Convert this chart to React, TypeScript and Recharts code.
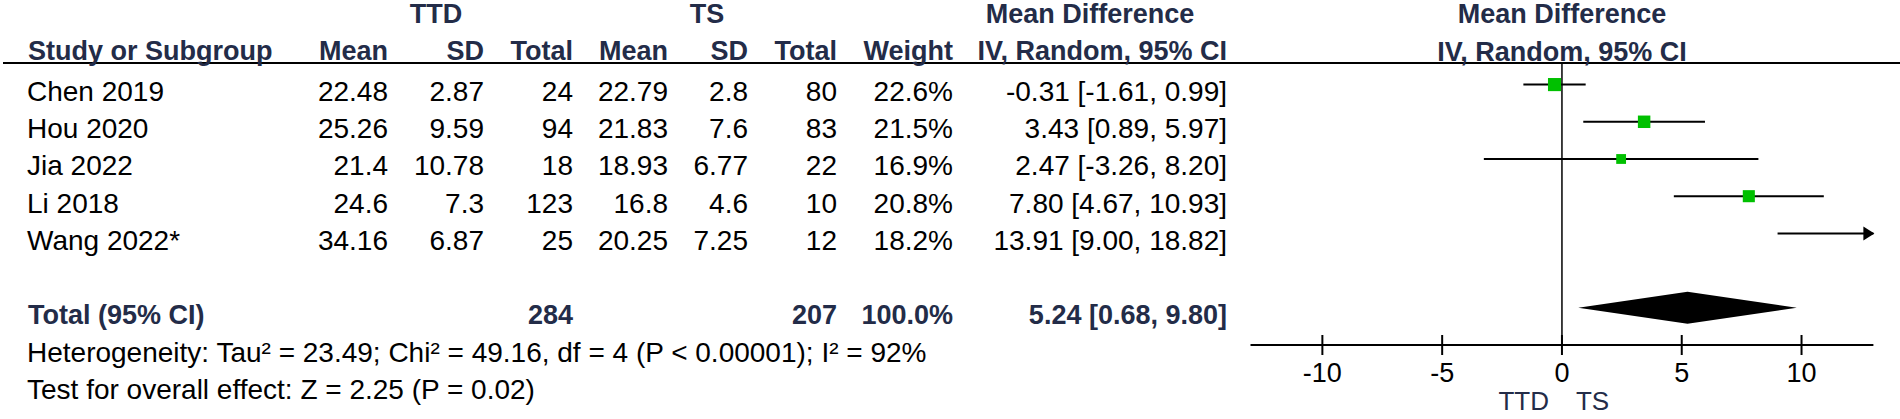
import React from 'react';
import { ComposedChart, XAxis, YAxis, Scatter, ReferenceLine, ReferenceDot, ReferenceArea } from 'recharts';

// ---------- data ----------
const studies = ['Chen 2019', 'Hou 2020', 'Jia 2022', 'Li 2018', 'Wang 2022*'];
const ttdMean = [22.48, 25.26, 21.4, 24.6, 34.16];
const ttdSD = [2.87, 9.59, 10.78, 7.3, 6.87];
const ttdTotal = [24, 94, 18, 123, 25];
const tsMean = [22.79, 21.83, 18.93, 16.8, 20.25];
const tsSD = [2.8, 7.6, 6.77, 4.6, 7.25];
const tsTotal = [80, 83, 22, 10, 12];
const weights = [22.6, 21.5, 16.9, 20.8, 18.2];
const md = [-0.31, 3.43, 2.47, 7.8, 13.91];
const ciLow = [-1.61, 0.89, -3.26, 4.67, 9.0];
const ciHigh = [0.99, 5.97, 8.2, 10.93, 18.82];

const pooledLabel = 'Total (95% CI)';
const pooledTtdTotal = 284;
const pooledTsTotal = 207;
const pooledWeight = 100.0;
const pooledMd = 5.24;
const pooledLow = 0.68;
const pooledHigh = 9.8;

const heterogeneityText = 'Heterogeneity: Tau\u00B2 = 23.49; Chi\u00B2 = 49.16, df = 4 (P < 0.00001); I\u00B2 = 92%';
const overallText = 'Test for overall effect: Z = 2.25 (P = 0.02)';

const groupTitles = ['TTD', 'TS'];
const colHeaders = ['Study or Subgroup', 'Mean', 'SD', 'Total', 'Mean', 'SD', 'Total', 'Weight', 'IV, Random, 95% CI'];
const mdTitle = 'Mean Difference';
const mdSubtitle = 'IV, Random, 95% CI';
const favoursLeft = 'TTD';
const favoursRight = 'TS';

const axisTicks = [-10, -5, 0, 5, 10];
const X_MIN = -13;
const X_MAX = 13;

// ---------- layout / style ----------
const W = 1900;
const H = 419;
const FONT = "'Liberation Sans', Arial, Helvetica, sans-serif";
const HEAD = '#232c48';
const GREEN = '#00c000';
const Y_TOP = -0.58;
const Y_BOTTOM = 7.0;
const BASE_OFF = 16.5; // text baseline below row centre
const REG = 28;
const BOLD = 27;

const colX = { name: 27, ttdMean: 388, ttdSD: 484, ttdTotal: 573, tsMean: 668, tsSD: 748, tsTotal: 837, weight: 953, ci: 1227 };

const fmtCI = (m: number, l: number, h: number) => `${m.toFixed(2)} [${l.toFixed(2)}, ${h.toFixed(2)}]`;

const pooledRow = studies.length + 1;
const hetRow = pooledRow + 1;
const testRow = pooledRow + 2;

const scatterData = studies
  .map((s, i) => ({ name: s, md: md[i], row: i, w: weights[i] }))
  .filter((d) => d.md >= X_MIN && d.md <= X_MAX);

const T = (props: any) => {
  const { x, y, anchor = 'start', bold = false, color, size, children } = props;
  return (
    <text
      x={x}
      y={y}
      textAnchor={anchor}
      fontFamily={FONT}
      fontSize={size || (bold ? BOLD : REG)}
      fontWeight={bold ? 'bold' : 'normal'}
      fill={color || (bold ? HEAD : '#000')}
    >
      {children}
    </text>
  );
};

const studyRowShape = (i: number) => (p: any) => {
  const b = p.cy + BASE_OFF;
  return (
    <g>
      <T x={colX.name} y={b}>{studies[i]}</T>
      <T x={colX.ttdMean} y={b} anchor="end">{String(ttdMean[i])}</T>
      <T x={colX.ttdSD} y={b} anchor="end">{String(ttdSD[i])}</T>
      <T x={colX.ttdTotal} y={b} anchor="end">{String(ttdTotal[i])}</T>
      <T x={colX.tsMean} y={b} anchor="end">{String(tsMean[i])}</T>
      <T x={colX.tsSD} y={b} anchor="end">{String(tsSD[i])}</T>
      <T x={colX.tsTotal} y={b} anchor="end">{String(tsTotal[i])}</T>
      <T x={colX.weight} y={b} anchor="end">{weights[i].toFixed(1) + '%'}</T>
      <T x={colX.ci} y={b} anchor="end">{fmtCI(md[i], ciLow[i], ciHigh[i])}</T>
    </g>
  );
};

const pooledRowShape = (p: any) => {
  const b = p.cy + BASE_OFF;
  return (
    <g>
      <T x={colX.name + 1} y={b} bold>{pooledLabel}</T>
      <T x={colX.ttdTotal} y={b} anchor="end" bold>{String(pooledTtdTotal)}</T>
      <T x={colX.tsTotal} y={b} anchor="end" bold>{String(pooledTsTotal)}</T>
      <T x={colX.weight} y={b} anchor="end" bold>{pooledWeight.toFixed(1) + '%'}</T>
      <T x={colX.ci} y={b} anchor="end" bold>{fmtCI(pooledMd, pooledLow, pooledHigh)}</T>
    </g>
  );
};

const footRowShape = (txt: string) => (p: any) => <T x={colX.name} y={p.cy + BASE_OFF}>{txt}</T>;

const headerShape = (p: any) => {
  const yl = p.cy; // header rule
  const b = yl - 3;
  const bt = yl - 40;
  const rights = [colX.ttdMean, colX.ttdSD, colX.ttdTotal, colX.tsMean, colX.tsSD, colX.tsTotal, colX.weight, colX.ci];
  return (
    <g>
      <line x1={3} x2={W} y1={yl} y2={yl} stroke="#000" strokeWidth={2} />
      <T x={436} y={bt} anchor="middle" bold>{groupTitles[0]}</T>
      <T x={707} y={bt} anchor="middle" bold>{groupTitles[1]}</T>
      <T x={1090} y={bt} anchor="middle" bold>{mdTitle}</T>
      <T x={colX.name + 1} y={b} bold>{colHeaders[0]}</T>
      {rights.map((rx, k) => (
        <T key={k} x={rx} y={b} anchor="end" bold>{colHeaders[k + 1]}</T>
      ))}
    </g>
  );
};

const plotHeaderShape = (p: any) => (
  <g>
    <T x={p.cx} y={p.cy - 40} anchor="middle" bold>{mdTitle}</T>
    <T x={p.cx} y={p.cy - 2} anchor="middle" bold>{mdSubtitle}</T>
  </g>
);

const favoursShape = (p: any) => (
  <g>
    <T x={p.cx - 13} y={p.cy + 65} anchor="end" color={HEAD} size={26}>{favoursLeft}</T>
    <T x={p.cx + 14} y={p.cy + 65} anchor="start" color={HEAD} size={26}>{favoursRight}</T>
  </g>
);

const arrowShape = (p: any) => (
  <polygon points={`${p.cx + 1},${p.cy} ${p.cx - 10},${p.cy - 7} ${p.cx - 10},${p.cy + 7}`} fill="#000" />
);

const squareShape = (p: any) => {
  const s = p.payload.w * 0.58;
  return <rect x={p.cx - s / 2} y={p.cy - s / 2} width={s} height={s} fill={GREEN} />;
};

const diamondShape = (p: any) => {
  const { x, y, width, height } = p;
  return (
    <polygon
      points={`${x},${y + height / 2} ${x + width / 2},${y} ${x + width},${y + height / 2} ${x + width / 2},${y + height}`}
      fill="#000"
    />
  );
};

const AxisTick = (props: any) => {
  const { x, y, payload } = props;
  return (
    <g>
      <line x1={x} x2={x} y1={y - 10} y2={y + 10} stroke="#000" strokeWidth={2} />
      <text x={x} y={y + 37} textAnchor="middle" fontFamily={FONT} fontSize={27} fill="#000">
        {String(payload.value)}
      </text>
    </g>
  );
};

export default function App() {
  return (
    <div style={{ position: 'absolute', left: 0, top: 0, width: W, height: H, background: '#fff' }}>
      <ComposedChart width={W} height={H} margin={{ top: 63, right: 26.6, bottom: 44, left: 1250.5 }} data={scatterData}>
        <XAxis
          type="number"
          dataKey="md"
          domain={[X_MIN, X_MAX]}
          ticks={axisTicks}
          interval={0}
          allowDataOverflow
          height={30}
          axisLine={{ stroke: '#000', strokeWidth: 2 }}
          tickLine={false}
          tickSize={0}
          tickMargin={0}
          tick={<AxisTick />}
        />
        <YAxis type="number" dataKey="row" domain={[Y_TOP, Y_BOTTOM]} reversed hide allowDataOverflow width={0} />

        <ReferenceLine x={0} stroke="#000" strokeWidth={1.5} />

        {studies.map((s, i) => (
          <ReferenceLine
            key={'ci' + i}
            segment={[
              { x: Math.max(ciLow[i], X_MIN), y: i },
              { x: Math.min(ciHigh[i], X_MAX), y: i },
            ]}
            stroke="#000"
            strokeWidth={2}
            ifOverflow="visible"
          />
        ))}
        {studies.map((s, i) =>
          ciHigh[i] > X_MAX ? (
            <ReferenceDot key={'ar' + i} x={X_MAX} y={i} ifOverflow="visible" shape={arrowShape} />
          ) : null
        )}

        <Scatter data={scatterData} dataKey="row" shape={squareShape} isAnimationActive={false} />

        <ReferenceArea
          x1={pooledLow}
          x2={pooledHigh}
          y1={pooledRow - 0.43}
          y2={pooledRow + 0.43}
          shape={diamondShape}
          ifOverflow="visible"
        />

        {studies.map((s, i) => (
          <ReferenceDot key={'row' + i} x={X_MIN} y={i} ifOverflow="visible" shape={studyRowShape(i)} />
        ))}
        <ReferenceDot x={X_MIN} y={pooledRow} ifOverflow="visible" shape={pooledRowShape} />
        <ReferenceDot x={X_MIN} y={hetRow} ifOverflow="visible" shape={footRowShape(heterogeneityText)} />
        <ReferenceDot x={X_MIN} y={testRow} ifOverflow="visible" shape={footRowShape(overallText)} />
        <ReferenceDot x={X_MIN} y={Y_TOP} ifOverflow="visible" shape={headerShape} />
        <ReferenceDot x={0} y={Y_TOP} ifOverflow="visible" shape={plotHeaderShape} />
        <ReferenceDot x={0} y={Y_BOTTOM} ifOverflow="visible" shape={favoursShape} />
      </ComposedChart>
    </div>
  );
}
